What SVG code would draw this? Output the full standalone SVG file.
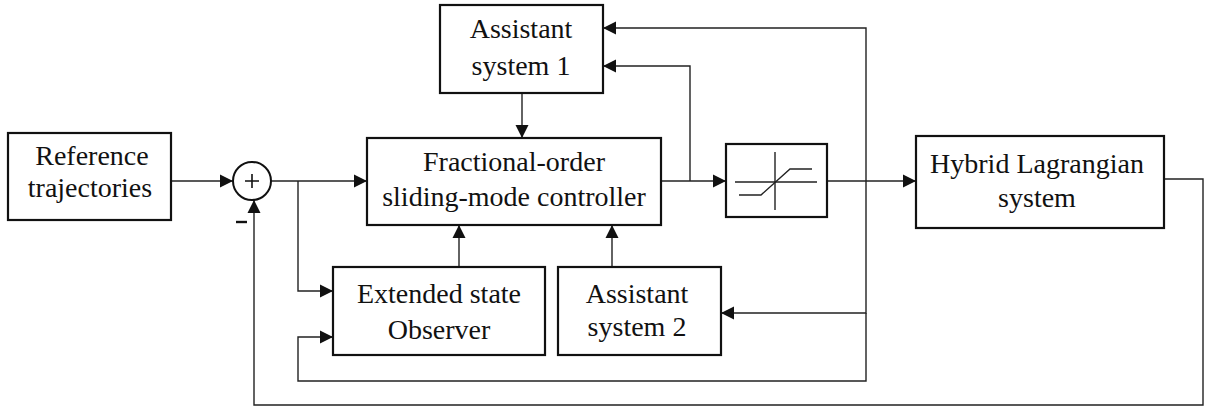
<svg xmlns="http://www.w3.org/2000/svg" width="1208" height="407" viewBox="0 0 1208 407">
<defs>
<style>
.box{fill:#fff;stroke:#111;stroke-width:2.2}
.ln{fill:none;stroke:#222;stroke-width:1.4}
.t{font-family:"Liberation Serif","Times New Roman",serif;font-size:28px;fill:#111;text-anchor:middle}
</style>
<marker id="ah" markerUnits="userSpaceOnUse" markerWidth="14" markerHeight="14" viewBox="0 0 14 14" refX="13" refY="7" orient="auto">
<path d="M0,0.5 L13,7 L0,13.5 Z" fill="#111"/>
</marker>
</defs>
<rect width="1208" height="407" fill="#fff"/>
<g id="connectors">
<path class="ln" d="M171,181 H233" marker-end="url(#ah)"/>
<path class="ln" d="M271,181 H367" marker-end="url(#ah)"/>
<path class="ln" d="M298,181 V291 H333" marker-end="url(#ah)"/>
<path class="ln" d="M459,267 V225" marker-end="url(#ah)"/>
<path class="ln" d="M612,267 V225" marker-end="url(#ah)"/>
<path class="ln" d="M522,93 V138" marker-end="url(#ah)"/>
<path class="ln" d="M661,181 H726" marker-end="url(#ah)"/>
<path class="ln" d="M690,181 V66 H603" marker-end="url(#ah)"/>
<path class="ln" d="M827,181 H916" marker-end="url(#ah)"/>
<path class="ln" d="M866,181 V28 H603" marker-end="url(#ah)"/>
<path class="ln" d="M866,181 V313 H721" marker-end="url(#ah)"/>
<path class="ln" d="M866,313 V381 H298 V337 H333" marker-end="url(#ah)"/>
<path class="ln" d="M1164,179 H1203 V405 H254 V200" marker-end="url(#ah)"/>
</g>
<g id="reference">
<rect class="box" x="8" y="133" width="163" height="87"/>
<text class="t" x="92" y="165">Reference</text>
<text class="t" x="90" y="197">trajectories</text>
</g>
<g id="sum">
<circle cx="252" cy="181" r="19" fill="#fff" stroke="#111" stroke-width="2"/>
<path d="M245,181 H259 M252,174 V188" stroke="#111" stroke-width="1.6" fill="none"/>
<path d="M236,222 H247" stroke="#111" stroke-width="2.4" fill="none"/>
</g>
<g id="assistant1">
<rect class="box" x="440" y="5" width="163" height="88"/>
<text class="t" x="521" y="38">Assistant</text>
<text class="t" x="521" y="75">system 1</text>
</g>
<g id="controller">
<rect class="box" x="367" y="138" width="294" height="87"/>
<text class="t" x="514" y="171">Fractional-order</text>
<text class="t" x="514" y="206">sliding-mode controller</text>
</g>
<g id="saturation">
<rect class="box" x="726" y="144" width="101" height="73"/>
<path class="ln" d="M735,182 H817 M775,152 V210"/>
<path class="ln" d="M739,195 H761 L790,169 H812"/>
</g>
<g id="hybrid">
<rect class="box" x="916" y="136" width="248" height="92"/>
<text class="t" x="1037" y="173">Hybrid Lagrangian</text>
<text class="t" x="1037" y="207">system</text>
</g>
<g id="observer">
<rect class="box" x="333" y="267" width="212" height="88"/>
<text class="t" x="439" y="303">Extended state</text>
<text class="t" x="439" y="339">Observer</text>
</g>
<g id="assistant2">
<rect class="box" x="558" y="267" width="163" height="88"/>
<text class="t" x="637" y="303">Assistant</text>
<text class="t" x="637" y="336">system 2</text>
</g>
</svg>
